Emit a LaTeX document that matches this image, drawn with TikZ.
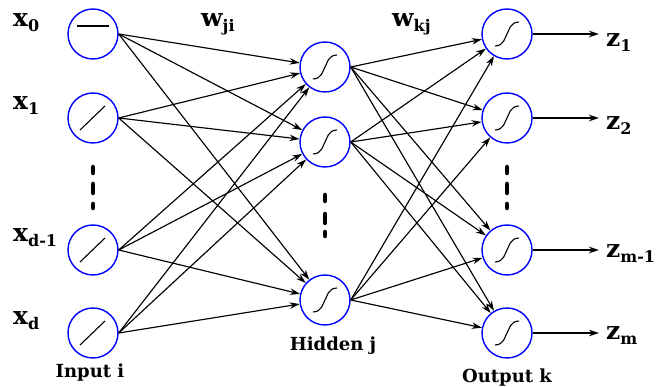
\documentclass[tikz,border=0pt]{standalone}
\usepackage{fontspec}
\setmainfont{DejaVu Serif}
\usetikzlibrary{arrows.meta}
\newcommand\vlab[2]{\fontsize{25}{28}\selectfont\bfseries #1\raisebox{-5pt}{\fontsize{16}{18}\selectfont\bfseries #2}}
\tikzset{
  neuron/.style={circle,draw=blue,line width=1.4pt,minimum size=50pt,inner sep=0pt},
  conn/.style={line width=1.15pt,-{Stealth[length=10pt,width=6.5pt]}},
  sym/.style={line width=1.1pt},
  vdots/.style={line width=4.5pt,line cap=round},
  lab/.style={anchor=base west,inner sep=0pt},
  title/.style={anchor=base,inner sep=0pt,font=\fontsize{18}{21}\selectfont\bfseries},
  sig/.pic={\draw[sym] (-12,12) .. controls (-3,12) and (-2,3) .. (0,0) .. controls (2,-3) and (3,-12) .. (12,-12);},
  lin/.pic={\draw[sym] (-13,12) -- (12,-12);},
  flat/.pic={\draw[sym] (-16,-8) -- (16,-8);}
}
\begin{document}
\begin{tikzpicture}[x=1pt,y=-1pt]
\path[use as bounding box] (0,0) rectangle (657,387);
% input layer
\node[neuron] (i0) at (93,34) {};
\node[neuron] (i1) at (93,118) {};
\node[neuron] (i2) at (93,250) {};
\node[neuron] (i3) at (93,333) {};
% hidden layer
\node[neuron] (h1) at (325,67) {};
\node[neuron] (h2) at (325,142) {};
\node[neuron] (h3) at (325,300) {};
% output layer
\node[neuron] (o1) at (507,34) {};
\node[neuron] (o2) at (507,118) {};
\node[neuron] (o3) at (507,250) {};
\node[neuron] (o4) at (507,333) {};
% symbols
\pic at (i0) {flat};
\foreach \n in {i1,i2,i3} \pic at (\n) {lin};
\foreach \n in {h1,h2,h3,o1,o2,o3,o4} \pic at (\n) {sig};
% connections
\foreach \s in {i0,i1,i2,i3}
  \foreach \t in {h1,h2,h3}
    \draw[conn] (\s.east) -- (\t);
\foreach \s in {h1,h2,h3}
  \foreach \t in {o1,o2,o3,o4}
    \draw[conn] (\s.east) -- (\t);
% labels
\node[lab] (x0) at (13,27) {\vlab{x}{0}};
\node[lab] (x1) at (13,110) {\vlab{x}{1}};
\node[lab] (x2) at (13,242) {\vlab{x}{d-1}};
\node[lab] (x3) at (13,325) {\vlab{x}{d}};
\node[lab] (wji) at (201,27) {\vlab{w}{ji}};
\node[lab] (wkj) at (392,27) {\vlab{w}{kj}};
\node[lab] (z1) at (606,47) {\vlab{z}{1}};
\node[lab] (z2) at (606,130) {\vlab{z}{2}};
\node[lab] (z3) at (606,258) {\vlab{z}{m-1}};
\node[lab] (z4) at (606,340) {\vlab{z}{m}};
\node[title] (tin) at (90,378) {Input i};
\node[title] (thid) at (333,351) {Hidden j};
\node[title] (tout) at (507,383) {Output k};
% output arrows
\draw[conn,shorten >=7pt] (o1) -- (o1 -| z1.west);
\draw[conn,shorten >=7pt] (o2) -- (o2 -| z2.west);
\draw[conn,shorten >=7pt] (o3) -- (o3 -| z3.west);
\draw[conn,shorten >=7pt] (o4) -- (o4 -| z4.west);
% vertical dots
\foreach \xx/\a/\b/\c/\d/\e/\f in {93/167/173/184/193/204/208, 325/195/201/214/223/232/236, 507/167/173/184/193/204/208}{
  \draw[vdots] (\xx,\a) -- (\xx,\b);
  \draw[vdots] (\xx,\c) -- (\xx,\d);
  \draw[vdots] (\xx,\e) -- (\xx,\f);
}
\end{tikzpicture}
\end{document}
